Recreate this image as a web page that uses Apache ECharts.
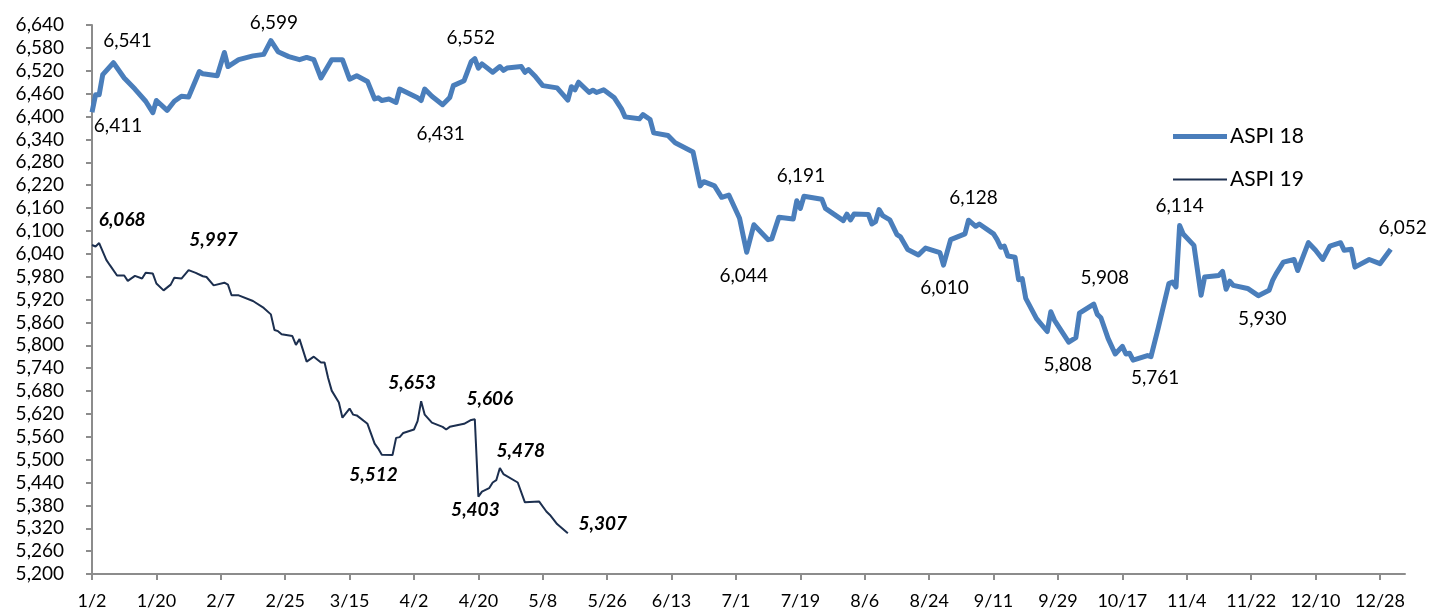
<!DOCTYPE html>
<html>
<head>
<meta charset="utf-8">
<script src="https://cdn.jsdelivr.net/npm/echarts@6/dist/echarts.min.js"></script>
<style>
html,body{margin:0;padding:0;background:#fff;}
#chart{width:1429px;height:610px;}
</style>
</head>
<body>
<div id="chart"></div>
<script>
// ---- DATA ----
const seriesNames = ['ASPI 18', 'ASPI 19'];

const dates18 = ['1/2','1/3','1/4','1/5','1/8','1/11','1/14','1/17','1/19','1/20','1/23','1/25','1/27','1/29',
 '2/1','2/2','2/6','2/8','2/9','2/12','2/16','2/19','2/21','2/23','2/26',
 '3/1','3/3','3/5','3/7','3/10','3/13','3/15','3/17','3/20','3/22','3/23','3/24','3/26','3/28','3/29',
 '4/3','4/4','4/5','4/7','4/10','4/12','4/13','4/16','4/18','4/19','4/20','4/21','4/24','4/26','4/27','4/28',
 '5/2','5/3','5/4','5/6','5/8','5/12','5/15','5/16','5/17','5/18','5/21','5/22','5/23','5/25','5/28','5/30','5/31',
 '6/4','6/5','6/7','6/8','6/12','6/14','6/19','6/21','6/22','6/25','6/27','6/29',
 '7/2','7/3','7/4','7/6','7/10','7/11','7/13','7/17','7/18','7/19','7/20','7/25','7/26','7/31',
 '8/1','8/2','8/3','8/7','8/8','8/9','8/10','8/11','8/13','8/15','8/16','8/18','8/21','8/23','8/27','8/28','8/30',
 '9/3','9/4','9/6','9/7','9/11','9/12','9/13','9/14','9/15','9/17','9/18','9/19','9/20','9/23','9/26','9/27','9/28',
 '10/2','10/4','10/5','10/9','10/10','10/11','10/13','10/15','10/17','10/18','10/19','10/20','10/24','10/25','10/27','10/30','10/31',
 '11/1','11/2','11/3','11/6','11/8','11/9','11/13','11/14','11/15','11/16','11/17','11/21','11/24','11/27','11/28','11/29',
 '12/1','12/4','12/5','12/8','12/10','12/12','12/14','12/17','12/18','12/20','12/21','12/25','12/28','12/31'];
const aspi18 = [6411,6457,6457,6510,6541,6501,6472,6440,6410,6442,6416,6440,6453,6451,
 6518,6512,6507,6568,6531,6549,6559,6563,6599,6570,6557,
 6549,6555,6549,6501,6549,6549,6498,6507,6492,6446,6449,6442,6446,6437,6472,
 6449,6442,6472,6453,6431,6450,6481,6494,6544,6552,6527,6538,6516,6531,6521,6527,
 6531,6516,6523,6504,6481,6475,6443,6478,6470,6490,6463,6469,6463,6470,6449,6420,6399,
 6394,6405,6392,6357,6350,6331,6307,6218,6229,6218,6188,6194,
 6133,6088,6044,6116,6077,6079,6136,6131,6179,6159,6191,6183,6159,6127,
 6144,6129,6144,6143,6118,6124,6156,6140,6129,6090,6084,6051,6037,6055,6043,6010,6077,
 6092,6128,6112,6118,6092,6077,6057,6060,6034,6031,5972,5975,5923,5870,5836,5888,5866,
 5808,5820,5884,5908,5881,5872,5818,5777,5797,5777,5779,5761,5773,5770,5844,5962,5966,
 5953,6114,6092,6062,5931,5979,5983,5994,5947,5968,5957,5949,5930,5944,5970,5988,
 6018,6025,5996,6069,6049,6025,6060,6069,6049,6052,6005,6025,6014,6052];

const dates19 = ['1/2','1/3','1/4','1/6','1/7','1/9','1/11','1/12','1/14','1/16','1/17','1/19','1/20','1/22','1/24','1/25','1/27','1/29','1/31',
 '2/2','2/3','2/5','2/8','2/9','2/10','2/12','2/16','2/19','2/21','2/22','2/23','2/24','2/27','2/28',
 '3/1','3/3','3/5','3/7','3/8','3/9','3/10','3/12','3/13','3/15','3/16','3/17','3/20','3/22','3/23','3/24','3/27','3/28','3/29','3/30',
 '4/2','4/3','4/4','4/5','4/7','4/10','4/11','4/12','4/16','4/18','4/19','4/20','4/21','4/23','4/24','4/25','4/26','4/27',
 '5/1','5/3','5/7','5/9','5/10','5/12','5/15'];
const aspi19 = [6063,6059,6068,6024,6010,5983,5983,5969,5982,5975,5990,5988,5962,5944,5959,5977,5975,5997,5990,
 5981,5979,5957,5964,5959,5931,5931,5916,5898,5881,5840,5837,5829,5824,5801,
 5816,5757,5770,5755,5755,5714,5681,5650,5610,5634,5618,5616,5594,5542,5529,5513,5512,5557,5559,5570,
 5579,5601,5653,5618,5597,5586,5579,5586,5594,5604,5606,5403,5416,5425,5440,5446,5478,5462,
 5440,5388,5390,5364,5355,5331,5307];

// annotated points (date -> label offset in px, dx/dy from the point to the text centre)
const labels18 = {'1/2':[26,14],'1/8':[14,-22],'2/21':[3,-18],'4/10':[-2,29],'4/19':[-4,-21],'7/4':[-3,24],
 '7/20':[-3,-20],'8/28':[1,23],'9/4':[5,-22],'10/2':[-1,23],'10/9':[11,-26],'10/20':[22,18],
 '11/2':[0,-20],'11/24':[4,23],'12/31':[12,-21]};
const labels19 = {'1/4':[23,-23],'1/29':[25,-30],'4/4':[-9,-18],'4/19':[15,-20],'3/27':[-19,20],
 '4/20':[-3,13],'4/26':[21,-17],'5/15':[35,-9]};

// y axis ticks
const yMin = 5200, yMax = 6640, yStep = 60;
// x axis: days since 1/2, tick every 18 days
const xStep = 18, xMax = 367;

// ---- helpers ----
const monthStart = [0,31,59,90,120,151,181,212,243,273,304,334];
function dayIndex(md){ const [m,d] = md.split('/').map(Number); return monthStart[m-1] + d - 2; }
function dayLabel(v){
  const doy = v + 1; // 0-based day of year
  let m = 11; while (m > 0 && monthStart[m] > doy) m--;
  return (m+1) + '/' + (doy - monthStart[m] + 1);
}
const fmt = v => v.toLocaleString('en-US');
const FONT = 'Lato, "Open Sans", sans-serif';

function build(dates, vals, labels, labelStyle){
  return dates.map((d,i) => {
    const item = { value: [dayIndex(d), vals[i]] };
    if (labels[d]) {
      item.label = Object.assign({
        show: true, position: 'inside', offset: labels[d],
        align: 'center', verticalAlign: 'middle',
        formatter: p => fmt(p.value[1])
      }, labelStyle);
    }
    return item;
  });
}

const chart = echarts.init(document.getElementById('chart'), null, {renderer:'canvas'});
chart.setOption({
  animation: false,
  backgroundColor: '#ffffff',
  grid: { left: 92, right: 24, top: 25, bottom: 34, containLabel: false },
  legend: {
    orient: 'vertical', left: 1168, top: 121, itemGap: 22,
    itemWidth: 54, itemHeight: 14,
    textStyle: { fontFamily: FONT, fontSize: 21, color: '#000', padding: [0,0,0,-2] },
    data: [
      { name: seriesNames[0], icon: 'path://M0,0H54V5H0Z' },
      { name: seriesNames[1], icon: 'path://M0,0H54V2H0Z' }
    ]
  },
  xAxis: {
    type: 'value', min: 0, max: xMax, interval: xStep,
    splitLine: { show: false },
    axisLine: { show: true, lineStyle: { color: '#8c8c8c', width: 2 } },
    axisTick: { show: true, inside: false, length: 6, lineStyle: { color: '#8c8c8c', width: 2 } },
    axisLabel: { margin: 18, fontFamily: FONT, fontSize: 18, color: '#000',
      formatter: v => dayLabel(v), showMaxLabel: false }
  },
  yAxis: {
    type: 'value', min: yMin, max: yMax, interval: yStep,
    splitLine: { show: false },
    axisLine: { show: true, lineStyle: { color: '#8c8c8c', width: 2 } },
    axisTick: { show: true, inside: false, length: 6, lineStyle: { color: '#8c8c8c', width: 2 } },
    axisLabel: { margin: 28, fontFamily: FONT, fontSize: 19, color: '#000', formatter: v => fmt(v) }
  },
  series: [
    {
      name: seriesNames[0], type: 'line', symbol: 'circle', symbolSize: 0, showSymbol: true,
      color: '#4a7ebb',
      lineStyle: { color: '#4a7ebb', width: 5, join: 'round' },
      itemStyle: { color: '#4a7ebb' },
      z: 3,
      data: build(dates18, aspi18, labels18, { fontFamily: FONT, fontSize: 19, color: '#000' })
    },
    {
      name: seriesNames[1], type: 'line', symbol: 'circle', symbolSize: 0, showSymbol: true,
      color: '#1c2f4f',
      lineStyle: { color: '#1c2f4f', width: 2 },
      itemStyle: { color: '#1c2f4f' },
      z: 4,
      data: build(dates19, aspi19, labels19, { fontFamily: FONT, fontSize: 19, color: '#000', fontWeight: 'bold', fontStyle: 'italic' })
    }
  ]
});
</script>
</body>
</html>
